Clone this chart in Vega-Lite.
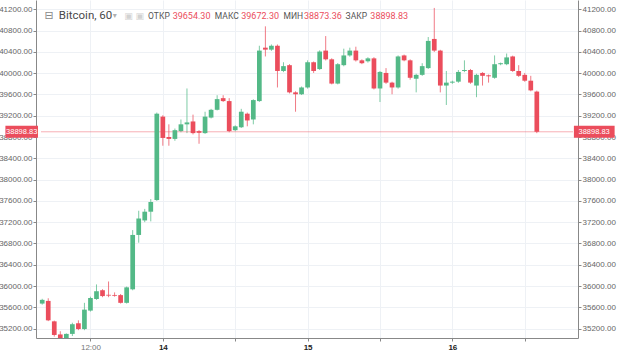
{
  "$schema": "https://vega.github.io/schema/vega-lite/v6.json",
  "width": 542,
  "height": 338,
  "autosize": {"type": "none"},
  "padding": {"left": 36, "top": 0, "right": 42, "bottom": 16},
  "background": "white",
  "config": {
    "view": {"stroke": null},
    "font": "Roboto",
    "axis": {"labelFont": "Liberation Sans"}
  },
  "datasets": {
    "candles": [
      {"t": -20, "open": 35670, "high": 35760, "low": 35650, "close": 35740},
      {"t": -19, "open": 35720, "high": 35770, "low": 35340, "close": 35355},
      {"t": -18, "open": 35336, "high": 35350, "low": 35050, "close": 35080},
      {"t": -17, "open": 35090, "high": 35150, "low": 34980, "close": 35020},
      {"t": -16, "open": 35020, "high": 35110, "low": 34990, "close": 35100},
      {"t": -15, "open": 35100, "high": 35310, "low": 35060, "close": 35282},
      {"t": -14, "open": 35300, "high": 35355, "low": 35170, "close": 35191},
      {"t": -13, "open": 35191, "high": 35684, "low": 35170, "close": 35556},
      {"t": -12, "open": 35538, "high": 35800, "low": 35520, "close": 35775},
      {"t": -11, "open": 35756, "high": 36030, "low": 35740, "close": 35902},
      {"t": -10, "open": 35921, "high": 35940, "low": 35790, "close": 35811},
      {"t": -9, "open": 35835, "high": 36085, "low": 35790, "close": 35820},
      {"t": -8, "open": 35832, "high": 35880, "low": 35800, "close": 35817},
      {"t": -7, "open": 35829, "high": 35850, "low": 35670, "close": 35684},
      {"t": -6, "open": 35684, "high": 35990, "low": 35670, "close": 35975},
      {"t": -5, "open": 35938, "high": 37051, "low": 35920, "close": 36960},
      {"t": -4, "open": 36960, "high": 37415, "low": 36814, "close": 37269},
      {"t": -3, "open": 37233, "high": 37450, "low": 37200, "close": 37397},
      {"t": -2, "open": 37397, "high": 37634, "low": 37215, "close": 37579},
      {"t": -1, "open": 37616, "high": 39260, "low": 37600, "close": 39239},
      {"t": 0, "open": 39184, "high": 39210, "low": 38637, "close": 38783},
      {"t": 1, "open": 38801, "high": 39039, "low": 38637, "close": 38765},
      {"t": 2, "open": 38765, "high": 38960, "low": 38730, "close": 38929},
      {"t": 3, "open": 38911, "high": 39130, "low": 38890, "close": 39039},
      {"t": 4, "open": 39039, "high": 39713, "low": 38874, "close": 39075},
      {"t": 5, "open": 39093, "high": 39221, "low": 38850, "close": 38874},
      {"t": 6, "open": 38911, "high": 38930, "low": 38674, "close": 38880},
      {"t": 7, "open": 38874, "high": 39276, "low": 38860, "close": 39184},
      {"t": 8, "open": 39166, "high": 39330, "low": 39150, "close": 39312},
      {"t": 9, "open": 39312, "high": 39586, "low": 39300, "close": 39513},
      {"t": 10, "open": 39531, "high": 39586, "low": 39460, "close": 39476},
      {"t": 11, "open": 39476, "high": 39531, "low": 38890, "close": 38911},
      {"t": 12, "open": 38929, "high": 39020, "low": 38910, "close": 39002},
      {"t": 13, "open": 38984, "high": 39330, "low": 38970, "close": 39276},
      {"t": 14, "open": 39239, "high": 39260, "low": 39002, "close": 39112},
      {"t": 15, "open": 39130, "high": 39510, "low": 39039, "close": 39495},
      {"t": 16, "open": 39476, "high": 40516, "low": 39460, "close": 40425},
      {"t": 17, "open": 40480, "high": 40881, "low": 40315, "close": 40443},
      {"t": 18, "open": 40443, "high": 40540, "low": 40420, "close": 40516},
      {"t": 19, "open": 40516, "high": 40540, "low": 39732, "close": 40042},
      {"t": 20, "open": 40042, "high": 40206, "low": 40020, "close": 40133},
      {"t": 21, "open": 40151, "high": 40170, "low": 39620, "close": 39640},
      {"t": 22, "open": 39640, "high": 39660, "low": 39276, "close": 39604},
      {"t": 23, "open": 39604, "high": 39750, "low": 39590, "close": 39732},
      {"t": 24, "open": 39732, "high": 40242, "low": 39710, "close": 40206},
      {"t": 25, "open": 40206, "high": 40220, "low": 40005, "close": 40042},
      {"t": 26, "open": 40078, "high": 40430, "low": 40060, "close": 40407},
      {"t": 27, "open": 40425, "high": 40698, "low": 40240, "close": 40261},
      {"t": 28, "open": 40261, "high": 40280, "low": 39790, "close": 39805},
      {"t": 29, "open": 39805, "high": 40190, "low": 39790, "close": 40169},
      {"t": 30, "open": 40151, "high": 40461, "low": 40130, "close": 40334},
      {"t": 31, "open": 40334, "high": 40480, "low": 40310, "close": 40425},
      {"t": 32, "open": 40425, "high": 40498, "low": 40220, "close": 40242},
      {"t": 33, "open": 40242, "high": 40260, "low": 40170, "close": 40188},
      {"t": 34, "open": 40224, "high": 40300, "low": 40200, "close": 40279},
      {"t": 35, "open": 40279, "high": 40300, "low": 39695, "close": 39713},
      {"t": 36, "open": 39713, "high": 40040, "low": 39458, "close": 40024},
      {"t": 37, "open": 40005, "high": 40096, "low": 39800, "close": 39823},
      {"t": 38, "open": 39823, "high": 39840, "low": 39604, "close": 39732},
      {"t": 39, "open": 39732, "high": 40334, "low": 39710, "close": 40315},
      {"t": 40, "open": 40334, "high": 40350, "low": 40224, "close": 40242},
      {"t": 41, "open": 40242, "high": 40260, "low": 39878, "close": 39914},
      {"t": 42, "open": 39896, "high": 39990, "low": 39640, "close": 39969},
      {"t": 43, "open": 39969, "high": 40188, "low": 39950, "close": 40133},
      {"t": 44, "open": 40096, "high": 40680, "low": 40080, "close": 40607},
      {"t": 45, "open": 40644, "high": 41227, "low": 40400, "close": 40425},
      {"t": 46, "open": 40425, "high": 40440, "low": 39640, "close": 39768},
      {"t": 47, "open": 39768, "high": 40042, "low": 39403, "close": 39823},
      {"t": 48, "open": 39823, "high": 39860, "low": 39800, "close": 39841},
      {"t": 49, "open": 39841, "high": 40060, "low": 39820, "close": 40024},
      {"t": 50, "open": 40042, "high": 40242, "low": 40020, "close": 40060},
      {"t": 51, "open": 40060, "high": 40080, "low": 39800, "close": 39823},
      {"t": 52, "open": 39768, "high": 39990, "low": 39549, "close": 39969},
      {"t": 53, "open": 40005, "high": 40020, "low": 39768, "close": 39951},
      {"t": 54, "open": 39960, "high": 39975, "low": 39823, "close": 39942},
      {"t": 55, "open": 39914, "high": 40334, "low": 39896, "close": 40169},
      {"t": 56, "open": 40169, "high": 40200, "low": 40150, "close": 40188},
      {"t": 57, "open": 40169, "high": 40370, "low": 40150, "close": 40297},
      {"t": 58, "open": 40315, "high": 40330, "low": 40024, "close": 40042},
      {"t": 59, "open": 40042, "high": 40151, "low": 39930, "close": 39951},
      {"t": 60, "open": 39969, "high": 40005, "low": 39840, "close": 39859},
      {"t": 61, "open": 39859, "high": 39951, "low": 39660, "close": 39677},
      {"t": 62, "open": 39654.30, "high": 39672.30, "low": 38873.36, "close": 38898.83}
    ]
  },
  "data": {"name": "candles"},
  "encoding": {
    "x": {
      "field": "t", "type": "quantitative", "title": null,
      "scale": {"domain": [-20.2, 68.0], "nice": false, "zero": false},
      "axis": {
        "orient": "bottom",
        "title": null,
        "values": [-12, 0, 12, 24, 36, 48, 60],
        "labelExpr": "datum.value == -12 ? '12:00' : datum.value == 0 ? '14' : datum.value == 24 ? '15' : datum.value == 48 ? '16' : ''",
        "grid": true, "gridColor": "#eef1f5", "gridWidth": 1,
        "tickSize": 3, "tickColor": "#888888", "domainColor": "#888888",
        "labelPadding": 2, "labelFontSize": 8,
        "labelColor": {"condition": {"test": "datum.value == -12", "value": "#777777"}, "value": "#222222"},
        "labelFontWeight": {"condition": {"test": "datum.value == -12", "value": "normal"}, "value": "bold"},
        "labelFlush": false, "labelOverlap": false
      }
    }
  },
  "resolve": {"axis": {"y": "independent"}},
  "layer": [
    {
      "mark": {"type": "rule", "clip": true, "strokeWidth": 1, "opacity": 0.75},
      "encoding": {
        "y": {
          "field": "low", "type": "quantitative", "title": null,
          "scale": {"domain": [35117, 41282], "nice": false, "zero": false},
          "axis": {
            "orient": "left",
            "title": null,
            "values": [35200, 35600, 36000, 36400, 36800, 37200, 37600, 38000, 38400, 38800, 39200, 39600, 40000, 40400, 40800, 41200],
            "format": ".2f",
            "grid": true, "gridColor": "#eef1f5",
            "tickSize": 3, "tickColor": "#888888", "domainColor": "#888888",
            "labelPadding": 1, "labelFontSize": 8, "labelColor": "#666666"
          }
        },
        "y2": {"field": "high"},
        "color": {"condition": {"test": "datum.close >= datum.open", "value": "#53b987"}, "value": "#eb4d5c"}
      }
    },
    {
      "transform": [{"filter": "datum.t == 62"}],
      "mark": {"type": "rule", "color": "#eb4d5c", "opacity": 0.45, "strokeWidth": 1},
      "encoding": {
        "x": {"datum": -20.2, "type": "quantitative"},
        "x2": {"datum": 68.0},
        "y": {
          "field": "close", "type": "quantitative", "title": null,
          "axis": {
            "orient": "right",
            "title": null,
            "values": [35200, 35600, 36000, 36400, 36800, 37200, 37600, 38000, 38400, 38800, 39200, 39600, 40000, 40400, 40800, 41200],
            "format": ".2f",
            "grid": false,
            "tickSize": 3, "tickColor": "#888888", "domainColor": "#888888",
            "labelPadding": 1, "labelFontSize": 8, "labelColor": "#666666"
          }
        }
      }
    },
    {
      "mark": {"type": "bar", "clip": true, "size": 4.7},
      "encoding": {
        "y": {"field": "open", "type": "quantitative", "axis": null},
        "y2": {"field": "close"},
        "color": {"condition": {"test": "datum.close >= datum.open", "value": "#53b987"}, "value": "#eb4d5c"}
      }
    },
    {
      "transform": [{"filter": "datum.t == 62"}],
      "mark": {"type": "bar", "size": 12, "color": "#eb4d5c", "clip": false},
      "encoding": {
        "x": {"datum": 68.15, "type": "quantitative"},
        "x2": {"datum": 74.9},
        "y": {"field": "close", "type": "quantitative", "axis": null}
      }
    },
    {
      "transform": [{"filter": "datum.t == 62"}],
      "mark": {"type": "bar", "size": 12, "color": "#eb4d5c", "clip": false},
      "encoding": {
        "x": {"datum": -26.1, "type": "quantitative"},
        "x2": {"datum": -20.7},
        "y": {"field": "close", "type": "quantitative", "axis": null}
      }
    },
    {
      "transform": [{"filter": "datum.t == 62"}],
      "mark": {"type": "text", "color": "white", "fontSize": 7.5, "font": "Liberation Sans", "align": "center", "baseline": "middle"},
      "encoding": {
        "x": {"datum": 71.5, "type": "quantitative"},
        "y": {"field": "close", "type": "quantitative", "axis": null},
        "text": {"field": "close", "format": ".2f"}
      }
    },
    {
      "transform": [{"filter": "datum.t == 62"}],
      "mark": {"type": "text", "color": "white", "fontSize": 7.5, "font": "Liberation Sans", "align": "center", "baseline": "middle"},
      "encoding": {
        "x": {"datum": -23.4, "type": "quantitative"},
        "y": {"field": "close", "type": "quantitative", "axis": null},
        "text": {"field": "close", "format": ".2f"}
      }
    },
    {
      "transform": [{"filter": "datum.t == 62"}],
      "mark": {"type": "text", "text": "⊟", "color": "#888888", "fontSize": 11, "align": "left", "baseline": "middle", "font": "DejaVu Sans"},
      "encoding": {"x": {"datum": -19.6, "type": "quantitative"}, "y": {"datum": 41070, "type": "quantitative", "axis": null}}
    },
    {
      "transform": [{"filter": "datum.t == 62"}],
      "mark": {"type": "text", "text": "Bitcoin, 60", "color": "#4a4a4a", "fontSize": 11.5, "align": "left", "baseline": "middle"},
      "encoding": {"x": {"datum": -17.25, "type": "quantitative"}, "y": {"datum": 41070, "type": "quantitative", "axis": null}}
    },
    {
      "transform": [{"filter": "datum.t == 62"}],
      "mark": {"type": "text", "text": "▾", "color": "#b0b0b0", "fontSize": 8, "align": "left", "baseline": "middle", "font": "DejaVu Sans"},
      "encoding": {"x": {"datum": -8.3, "type": "quantitative"}, "y": {"datum": 41070, "type": "quantitative", "axis": null}}
    },
    {
      "transform": [{"filter": "datum.t == 62"}],
      "mark": {"type": "text", "text": "▣ ▣", "color": "#d2d2d2", "fontSize": 9, "align": "left", "baseline": "middle", "font": "DejaVu Sans"},
      "encoding": {"x": {"datum": -6.4, "type": "quantitative"}, "y": {"datum": 41070, "type": "quantitative", "axis": null}}
    },
    {
      "transform": [{"filter": "datum.t == 62"}],
      "mark": {"type": "text", "text": "ОТКР", "color": "#555555", "fontSize": 8.5, "align": "left", "baseline": "middle"},
      "encoding": {"x": {"datum": -2.44, "type": "quantitative"}, "y": {"datum": 41070, "type": "quantitative", "axis": null}}
    },
    {
      "transform": [{"filter": "datum.t == 62"}],
      "mark": {"type": "text", "text": "МАКС", "color": "#555555", "fontSize": 8.5, "align": "left", "baseline": "middle"},
      "encoding": {"x": {"datum": 8.62, "type": "quantitative"}, "y": {"datum": 41070, "type": "quantitative", "axis": null}}
    },
    {
      "transform": [{"filter": "datum.t == 62"}],
      "mark": {"type": "text", "text": "МИН", "color": "#555555", "fontSize": 8.5, "align": "left", "baseline": "middle"},
      "encoding": {"x": {"datum": 20.0, "type": "quantitative"}, "y": {"datum": 41070, "type": "quantitative", "axis": null}}
    },
    {
      "transform": [{"filter": "datum.t == 62"}],
      "mark": {"type": "text", "text": "ЗАКР", "color": "#555555", "fontSize": 8.5, "align": "left", "baseline": "middle"},
      "encoding": {"x": {"datum": 30.3, "type": "quantitative"}, "y": {"datum": 41070, "type": "quantitative", "axis": null}}
    },
    {
      "transform": [{"filter": "datum.t == 62"}],
      "mark": {"type": "text", "color": "#eb4d5c", "fontSize": 9, "align": "left", "baseline": "middle"},
      "encoding": {"x": {"datum": 1.63, "type": "quantitative"}, "y": {"datum": 41070, "type": "quantitative", "axis": null}, "text": {"field": "open", "format": ".2f"}}
    },
    {
      "transform": [{"filter": "datum.t == 62"}],
      "mark": {"type": "text", "color": "#eb4d5c", "fontSize": 9, "align": "left", "baseline": "middle"},
      "encoding": {"x": {"datum": 13.0, "type": "quantitative"}, "y": {"datum": 41070, "type": "quantitative", "axis": null}, "text": {"field": "high", "format": ".2f"}}
    },
    {
      "transform": [{"filter": "datum.t == 62"}],
      "mark": {"type": "text", "color": "#eb4d5c", "fontSize": 9, "align": "left", "baseline": "middle"},
      "encoding": {"x": {"datum": 23.4, "type": "quantitative"}, "y": {"datum": 41070, "type": "quantitative", "axis": null}, "text": {"field": "low", "format": ".2f"}}
    },
    {
      "transform": [{"filter": "datum.t == 62"}],
      "mark": {"type": "text", "color": "#eb4d5c", "fontSize": 9, "align": "left", "baseline": "middle"},
      "encoding": {"x": {"datum": 34.4, "type": "quantitative"}, "y": {"datum": 41070, "type": "quantitative", "axis": null}, "text": {"field": "close", "format": ".2f"}}
    }
  ]
}
